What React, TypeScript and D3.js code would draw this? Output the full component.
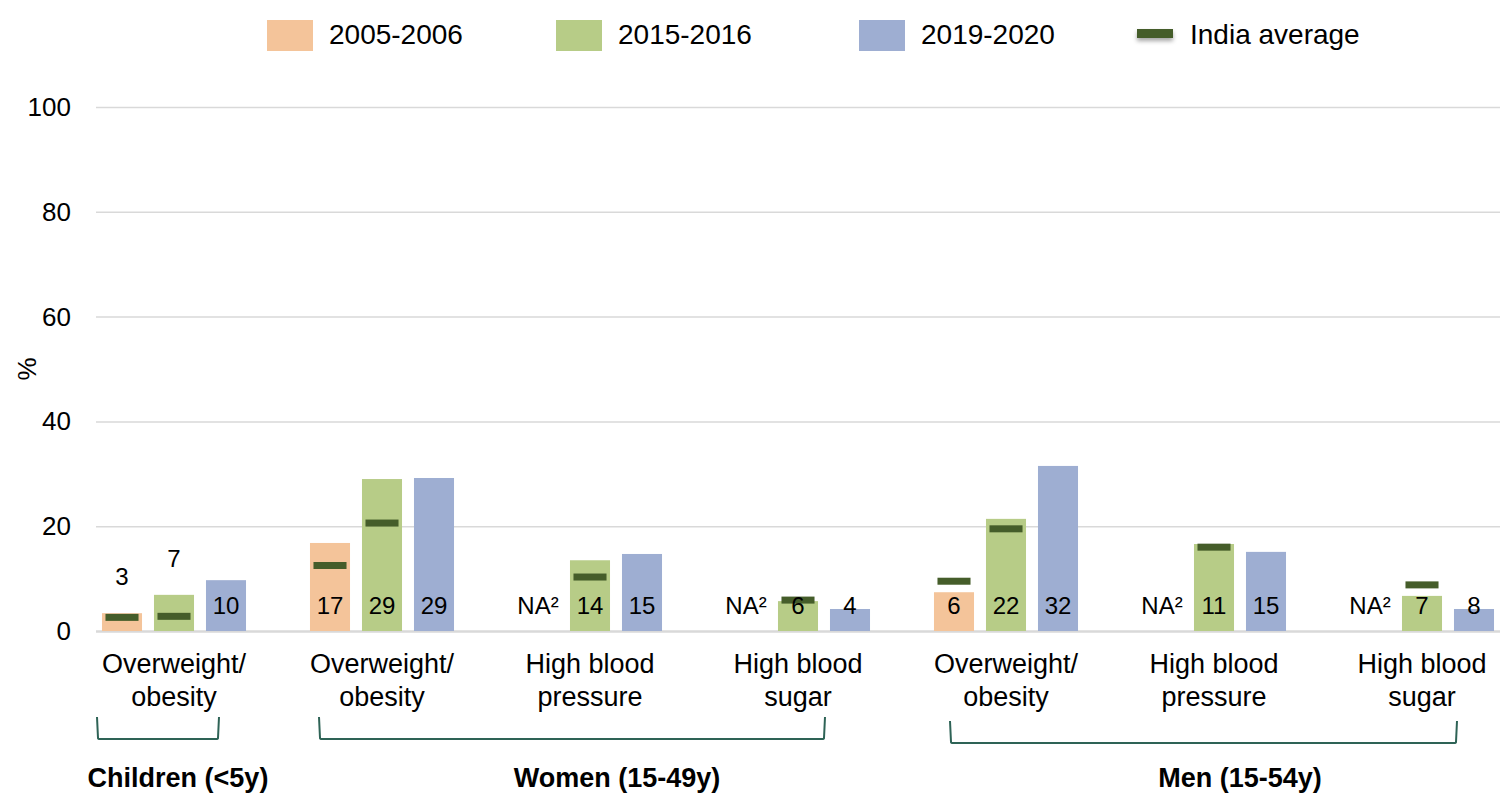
import React, { useRef, useEffect } from 'react';
import * as d3 from 'd3';

// --- DATA ---
const series = ['2005-2006', '2015-2016', '2019-2020'];
const seriesColors = ['#F4C49A', '#B7CC87', '#9EAED2'];

const groups = ['Children (<5y)', 'Women (15-49y)', 'Men (15-54y)'];
const categoryLines = [
  ['Overweight/', 'obesity'],
  ['Overweight/', 'obesity'],
  ['High blood', 'pressure'],
  ['High blood', 'sugar'],
  ['Overweight/', 'obesity'],
  ['High blood', 'pressure'],
  ['High blood', 'sugar'],
];
const categoryGroup = [0, 1, 1, 1, 2, 2, 2];

// bar heights as drawn (%), null = not available
const values2005 = [3.4, 16.8, null, null, 7.4, null, null];
const values2015 = [6.9, 29.0, 13.5, 5.7, 21.4, 16.6, 6.7];
const values2019 = [9.7, 29.2, 14.7, 4.2, 31.5, 15.1, 4.2];

// printed value labels
const labels2005 = ['3', '17', 'NA²', 'NA²', '6', 'NA²', 'NA²'];
const labels2015 = ['7', '29', '14', '6', '22', '11', '7'];
const labels2019 = ['10', '29', '15', '4', '32', '15', '8'];

// India average markers
const avg2005 = [2.6, 12.5, null, null, 9.5, null, null];
const avg2015 = [2.8, 20.6, 10.3, 5.9, 19.5, 16.0, 8.8];

const yTicks = [0, 20, 40, 60, 80, 100];

const FONT = '"Liberation Sans", Arial, Helvetica, sans-serif';

export default function App() {
  const svgRef = useRef<SVGSVGElement>(null);

  useEffect(() => {
    if (!svgRef.current) return;
    const W = 1510;
    const H = 794;
    const svg = d3.select(svgRef.current);
    svg.selectAll('*').remove();
    svg.attr('width', W).attr('height', H);

    const values = [values2005, values2015, values2019];
    const labels = [labels2005, labels2015, labels2019];
    const avgs = [avg2005, avg2015, null];

    // Scales
    const x0 = d3.scaleBand<number>()
      .domain(d3.range(categoryLines.length))
      .range([96, 1500])
      .paddingInner(0.25)
      .paddingOuter(0);
    const x1 = d3.scaleBand<number>()
      .domain(d3.range(series.length))
      .range([0, x0.bandwidth()])
      .paddingInner(0.23)
      .paddingOuter(0.115);
    const y = d3.scaleLinear().domain([0, 100]).range([631, 107]);

    // Gridlines
    const grid = svg.append('g')
      .attr('transform', 'translate(96,0)')
      .call(d3.axisLeft(y).tickValues(yTicks).tickSize(-1404).tickFormat(() => ''));
    grid.select('.domain').remove();
    grid.selectAll('.tick line')
      .attr('stroke', '#D9D9D9')
      .attr('stroke-width', (d: any) => (d === 0 ? 2.5 : 1.5));

    // Y tick labels
    svg.append('g')
      .selectAll('text')
      .data(yTicks)
      .enter()
      .append('text')
      .attr('x', 71)
      .attr('y', d => y(d) + 9)
      .attr('text-anchor', 'end')
      .attr('font-size', 26)
      .attr('font-family', FONT)
      .attr('fill', '#000')
      .text(d => d);

    // Y axis title
    svg.append('text')
      .attr('transform', 'translate(36,369) rotate(-90)')
      .attr('text-anchor', 'middle')
      .attr('font-size', 26)
      .attr('font-family', FONT)
      .text('%');

    // Bars, markers, labels
    const catG = svg.append('g')
      .selectAll('g')
      .data(d3.range(categoryLines.length))
      .enter()
      .append('g')
      .attr('transform', ci => `translate(${x0(ci)},0)`);

    series.forEach((_, si) => {
      catG.each(function (ci) {
        const g = d3.select(this);
        const v = values[si][ci];
        const bx = x1(si)!;
        const bw = x1.bandwidth();
        if (v != null) {
          g.append('rect')
            .attr('x', bx)
            .attr('y', y(v))
            .attr('width', bw)
            .attr('height', y(0) - y(v))
            .attr('fill', seriesColors[si]);
        }
        const a = avgs[si] ? avgs[si]![ci] : null;
        if (a != null) {
          g.append('rect')
            .attr('x', bx + 3.5)
            .attr('y', y(a) - 3.5)
            .attr('width', bw - 7)
            .attr('height', 7)
            .attr('fill', '#455D2A');
        }
        // children's small bars carry their label above the bar
        const above = ci === 0 && si < 2 && v != null;
        g.append('text')
          .attr('x', bx + bw / 2)
          .attr('y', above ? y(v!) - 28 : y(0) - 17)
          .attr('text-anchor', 'middle')
          .attr('font-size', 24)
          .attr('font-family', FONT)
          .attr('fill', '#000')
          .text(labels[si][ci]);
      });
    });

    // Category labels
    catG.each(function (ci) {
      const t = d3.select(this).append('text')
        .attr('x', x0.bandwidth() / 2)
        .attr('y', 673)
        .attr('text-anchor', 'middle')
        .attr('font-size', 27)
        .attr('font-family', FONT)
        .attr('fill', '#000');
      categoryLines[ci].forEach((line, li) => {
        t.append('tspan')
          .attr('x', x0.bandwidth() / 2)
          .attr('y', 673 + li * 33)
          .text(line);
      });
    });

    // Group brackets and titles
    const bracketInset = [[1, 33], [15, 51], [22, 43]];
    const bracketTop = [717, 717, 721];
    const labelShift = [4, 27, 26];
    groups.forEach((name, gi) => {
      const cats = categoryGroup.map((g, i) => (g === gi ? i : -1)).filter(i => i >= 0);
      const left = x0(cats[0])!;
      const right = x0(cats[cats.length - 1])! + x0.bandwidth();
      const l = left + bracketInset[gi][0];
      const r = right - bracketInset[gi][1];
      const top = bracketTop[gi];
      const bot = top + 22;
      svg.append('path')
        .attr('d', `M${l},${top} L${l + 1},${bot - 1} Q${l + 1},${bot} ${l + 3},${bot} L${r - 3},${bot} Q${r - 1},${bot} ${r - 1},${bot - 1} L${r},${top}`)
        .attr('fill', 'none')
        .attr('stroke', '#2E6356')
        .attr('stroke-width', 2);
      svg.append('text')
        .attr('x', (left + right) / 2 + labelShift[gi])
        .attr('y', 787)
        .attr('text-anchor', 'middle')
        .attr('font-size', 27)
        .attr('font-weight', 'bold')
        .attr('font-family', FONT)
        .attr('fill', '#000')
        .text(name);
    });

    // Legend
    const defs = svg.append('defs');
    defs.append('filter')
      .attr('id', 'mshadow')
      .attr('x', '-20%').attr('y', '-50%').attr('width', '140%').attr('height', '250%')
      .append('feDropShadow')
      .attr('dx', 0).attr('dy', 3).attr('stdDeviation', 2)
      .attr('flood-color', '#000').attr('flood-opacity', 0.35);

    const legendX = [267, 556, 859];
    series.forEach((s, si) => {
      svg.append('rect')
        .attr('x', legendX[si])
        .attr('y', 20)
        .attr('width', 46)
        .attr('height', 31)
        .attr('fill', seriesColors[si]);
      svg.append('text')
        .attr('x', legendX[si] + 62)
        .attr('y', 44)
        .attr('font-size', 28)
        .attr('font-family', FONT)
        .attr('fill', '#000')
        .text(s);
    });
    svg.append('rect')
      .attr('x', 1137)
      .attr('y', 29)
      .attr('width', 36)
      .attr('height', 9)
      .attr('fill', '#455D2A')
      .attr('filter', 'url(#mshadow)');
    svg.append('text')
      .attr('x', 1190)
      .attr('y', 44)
      .attr('font-size', 28)
      .attr('font-family', FONT)
      .attr('fill', '#000')
      .text('India average');
  }, []);

  return (
    <div style={{ position: 'absolute', left: 0, top: 0, width: 1510, height: 794, background: '#fff' }}>
      <svg ref={svgRef} style={{ display: 'block' }}></svg>
    </div>
  );
}
